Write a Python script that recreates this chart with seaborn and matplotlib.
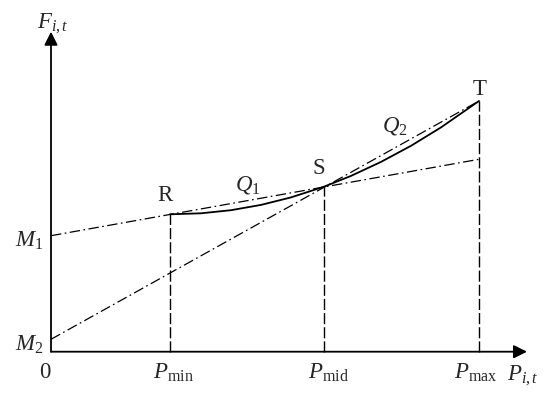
import matplotlib as mpl
mpl.use('Agg')
import matplotlib.pyplot as plt
import seaborn as sns

# data (arbitrary units, origin at the axis corner)
p_names = [r'$P_{\mathrm{min}}$', r'$P_{\mathrm{mid}}$', r'$P_{\mathrm{max}}$']
p_vals = [119, 273, 428]
m_names = [r'$M_1$', r'$M_2$']
m_vals = [116, 12.4]
# end values of the two dash-dot lines at P_max
m_line_end = [192.4, 250.7]

# cost curve F(P), from R through S to T
curve_x = [119, 150, 180, 210, 240, 273, 300, 330, 360, 390, 428]
curve_y = [137.4, 138.4, 141.5, 146.8, 154.3, 165.0, 175.8, 189.8, 205.9, 224.3, 250.7]
point_names = ['R', 'S', 'T']
point_y = [137.4, 165.0, 250.7]

sns.set_theme(style='white')
plt.rcParams['font.family'] = ['Liberation Serif', 'DejaVu Serif']
plt.rcParams['mathtext.fontset'] = 'custom'
plt.rcParams['mathtext.rm'] = 'Liberation Serif'
plt.rcParams['mathtext.it'] = 'Liberation Serif:italic'
plt.rcParams['lines.scale_dashes'] = False

fig = plt.figure(figsize=(5.5, 3.95), dpi=100)
ax = fig.add_axes([0, 0, 1, 1])
ax.set_xlim(-51, 499)
ax.set_ylim(-43.3, 351.7)
ax.axis('off')

dashdot = (0, (7.5, 2.5, 1.2, 2.5))
dashed = (0, (8.0, 2.2))

# axes with arrows
arr = dict(arrowstyle='-|>,head_length=0.4,head_width=0.2', mutation_scale=20,
           lw=1.3, color='black', shrinkA=0, shrinkB=0)
ax.annotate('', xy=(476, 0), xytext=(0, 0), arrowprops=arr)
ax.annotate('', xy=(0, 320), xytext=(0, 0), arrowprops=arr)

# dash-dot lines from M1 and M2
for m, end in zip(m_vals, m_line_end):
    sns.lineplot(x=[0, p_vals[2]], y=[m, end], ax=ax, color='black',
                 lw=0.9, linestyle=dashdot)

# vertical dashed lines
for p, py in zip(p_vals, point_y):
    ax.plot([p, p], [0, py], color='black', lw=1.0, linestyle=dashed)

# curve
sns.lineplot(x=curve_x, y=curve_y, ax=ax, color='black', lw=1.3)

fs = 16.5
# labels
ax.text(-14, 323.7, r'$F_{i,t}$', fontsize=fs, ha='left', va='baseline')
ax.text(456, -28.5, r'$P_{i,t}$', fontsize=fs, ha='left', va='baseline')
ax.text(-6, -26, '0', fontsize=fs, ha='center', va='baseline')
for name, p, dx in zip(p_names, p_vals, [3, 4, -3]):
    ax.text(p + dx, -27.5, name, fontsize=fs, ha='center', va='baseline')
for name, m in zip(m_names, m_vals):
    ax.text(-8, m - 11.5, name, fontsize=fs, ha='right', va='baseline')
for name, p, py, dx, dy in zip(point_names, p_vals, point_y,
                               [-5, -5, 1], [13.6, 12.4, 6]):
    ax.text(p + dx, py + dy, name, fontsize=fs, ha='center', va='baseline')
ax.text(184, 161, r'$Q_1$', fontsize=fs, ha='left', va='baseline')
ax.text(331, 220, r'$Q_2$', fontsize=fs, ha='left', va='baseline')

fig.savefig('out.png', dpi=100)
